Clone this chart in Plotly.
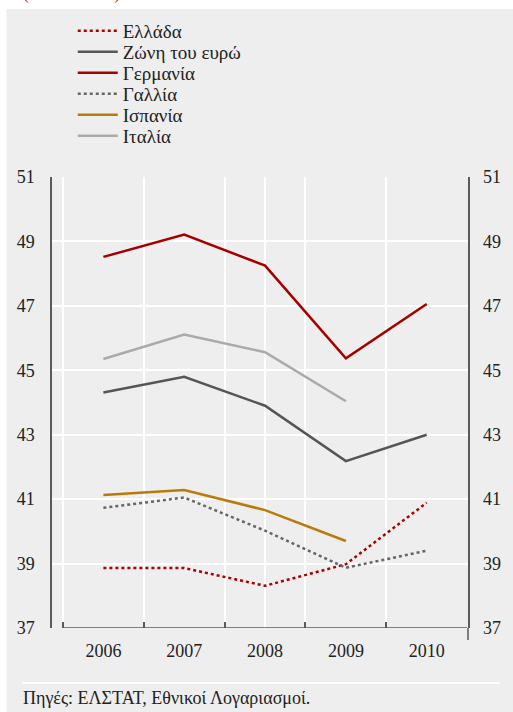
import plotly.graph_objects as go

W, H = 513, 712
L, R, T, B = 52, 40, 177, 84
PW, PH = W - L - R, H - T - B

years = [2006, 2007, 2008, 2009, 2010]
greece = [38.86, 38.86, 38.31, 38.98, 40.89]
euro = [44.31, 44.80, 43.90, 42.18, 43.00]
germany = [48.52, 49.21, 48.25, 45.37, 47.06]
france = [40.73, 41.05, 40.02, 38.87, 39.40]
spain = [41.13, 41.28, 40.66, 39.70]
italy = [45.35, 46.11, 45.56, 44.04]

y_ticks = [37, 39, 41, 43, 45, 47, 49, 51]
bounds = [2005.5, 2006.5, 2007.5, 2008.5, 2009.5, 2010.5]

FONT = "Times New Roman, Liberation Serif, serif"
BG = "#eeeeee"
AX = "#5a5a5a"
TXT = "#222222"

def px_x(p):
    return (p - L) / PW

def px_y(p):
    return 1 + (T - p) / PH

series = [
    ("Ελλάδα", greece, "#aa0000", "dot"),
    ("Ζώνη του ευρώ", euro, "#555555", "solid"),
    ("Γερμανία", germany, "#a50000", "solid"),
    ("Γαλλία", france, "#666666", "dot"),
    ("Ισπανία", spain, "#b97a0a", "solid"),
    ("Ιταλία", italy, "#aaaaaa", "solid"),
]

fig = go.Figure()
legend_layout = {}
for i, (name, vals, col, dash) in enumerate(series):
    lg = "legend" if i == 0 else f"legend{i + 1}"
    fig.add_trace(go.Scatter(
        x=years[:len(vals)], y=vals, name=name, mode="lines",
        line=dict(color=col, width=2.5, dash=dash), legend=lg,
    ))
    legend_layout[lg] = dict(
        x=px_x(73), y=px_y(31 + 21 * i), xanchor="left", yanchor="middle",
        bgcolor="rgba(0,0,0,0)", font=dict(family=FONT, size=19, color=TXT),
        itemwidth=40,
    )

fig.update_layout(
    width=W, height=H,
    margin=dict(l=L, r=R, t=T, b=B, pad=0),
    paper_bgcolor=BG, plot_bgcolor=BG,
    font=dict(family=FONT, size=16, color=TXT),
    showlegend=True,
    xaxis=dict(
        range=[2005.364, 2010.511], tickvals=years, ticktext=[str(y) for y in years],
        showgrid=False, zeroline=False, showline=False, ticks="",
        ticklabelstandoff=10, tickfont=dict(family=FONT, size=18, color=TXT),
    ),
    xaxis2=dict(
        range=[2005.364, 2010.511], overlaying="x", anchor="y", side="bottom",
        tickvals=bounds, showticklabels=False, ticks="inside", ticklen=6,
        tickcolor=AX, tickwidth=1.5,
        showgrid=True, gridcolor="white", gridwidth=2, zeroline=False, showline=False,
        minor=dict(tickvals=[2008], showgrid=True, gridcolor="white", gridwidth=2, ticks=""),
    ),
    yaxis=dict(
        range=[37, 51], tickvals=y_ticks, showgrid=True, gridcolor="white", gridwidth=2,
        zeroline=False, showline=True, linecolor=AX, linewidth=1.5, mirror=True,
        ticks="", ticklabelstandoff=12, tickfont=dict(family=FONT, size=18, color=TXT),
    ),
    yaxis2=dict(
        range=[37, 51], tickvals=y_ticks, overlaying="y", side="right", anchor="x",
        showgrid=False, zeroline=False, showline=False, ticks="",
        ticklabelstandoff=14, tickfont=dict(family=FONT, size=18, color=TXT),
    ),
    **legend_layout,
)

# invisible trace to activate secondary axes
fig.add_trace(go.Scatter(x=[years[0]], y=[y_ticks[0]], xaxis="x2", yaxis="y2",
                         mode="markers", marker=dict(opacity=0), showlegend=False,
                         hoverinfo="skip"))

shapes = [
    dict(type="line", xref="x", yref="y", x0=bounds[0], x1=bounds[-1], y0=37, y1=37,
         line=dict(color=AX, width=1.5)),
    dict(type="line", xref="paper", yref="paper", x0=px_x(473), x1=px_x(473),
         y0=px_y(628), y1=px_y(640), line=dict(color=AX, width=1.5)),
    dict(type="line", xref="paper", yref="paper", x0=px_x(22), x1=px_x(505),
         y0=px_y(683), y1=px_y(683), line=dict(color="white", width=2)),
    dict(type="rect", xref="paper", yref="paper", x0=px_x(-5), x1=px_x(520),
         y0=px_y(9), y1=px_y(-5), fillcolor="white", line=dict(width=0), layer="below"),
    dict(type="rect", xref="paper", yref="paper", x0=px_x(-5), x1=px_x(6),
         y0=px_y(720), y1=px_y(-5), fillcolor="white", line=dict(width=0), layer="below"),
]
fig.update_layout(shapes=shapes)

fig.add_annotation(
    text="Πηγές: ΕΛΣΤΑΤ, Εθνικοί Λογαριασμοί.", xref="paper", yref="paper",
    x=px_x(21), y=px_y(698), xanchor="left", yanchor="middle", showarrow=False,
    font=dict(family=FONT, size=18, color=TXT),
)
fig.add_annotation(
    text="(% του ΑΕΠ)", xref="paper", yref="paper",
    x=px_x(21), y=px_y(-7), xanchor="left", yanchor="middle", showarrow=False,
    font=dict(family=FONT, size=18, color="#c0282d"),
)

fig.write_html(
    "out.html",
    config={"displayModeBar": False},
    post_script="document.body.style.margin='0';document.body.style.overflow='hidden';",
)
